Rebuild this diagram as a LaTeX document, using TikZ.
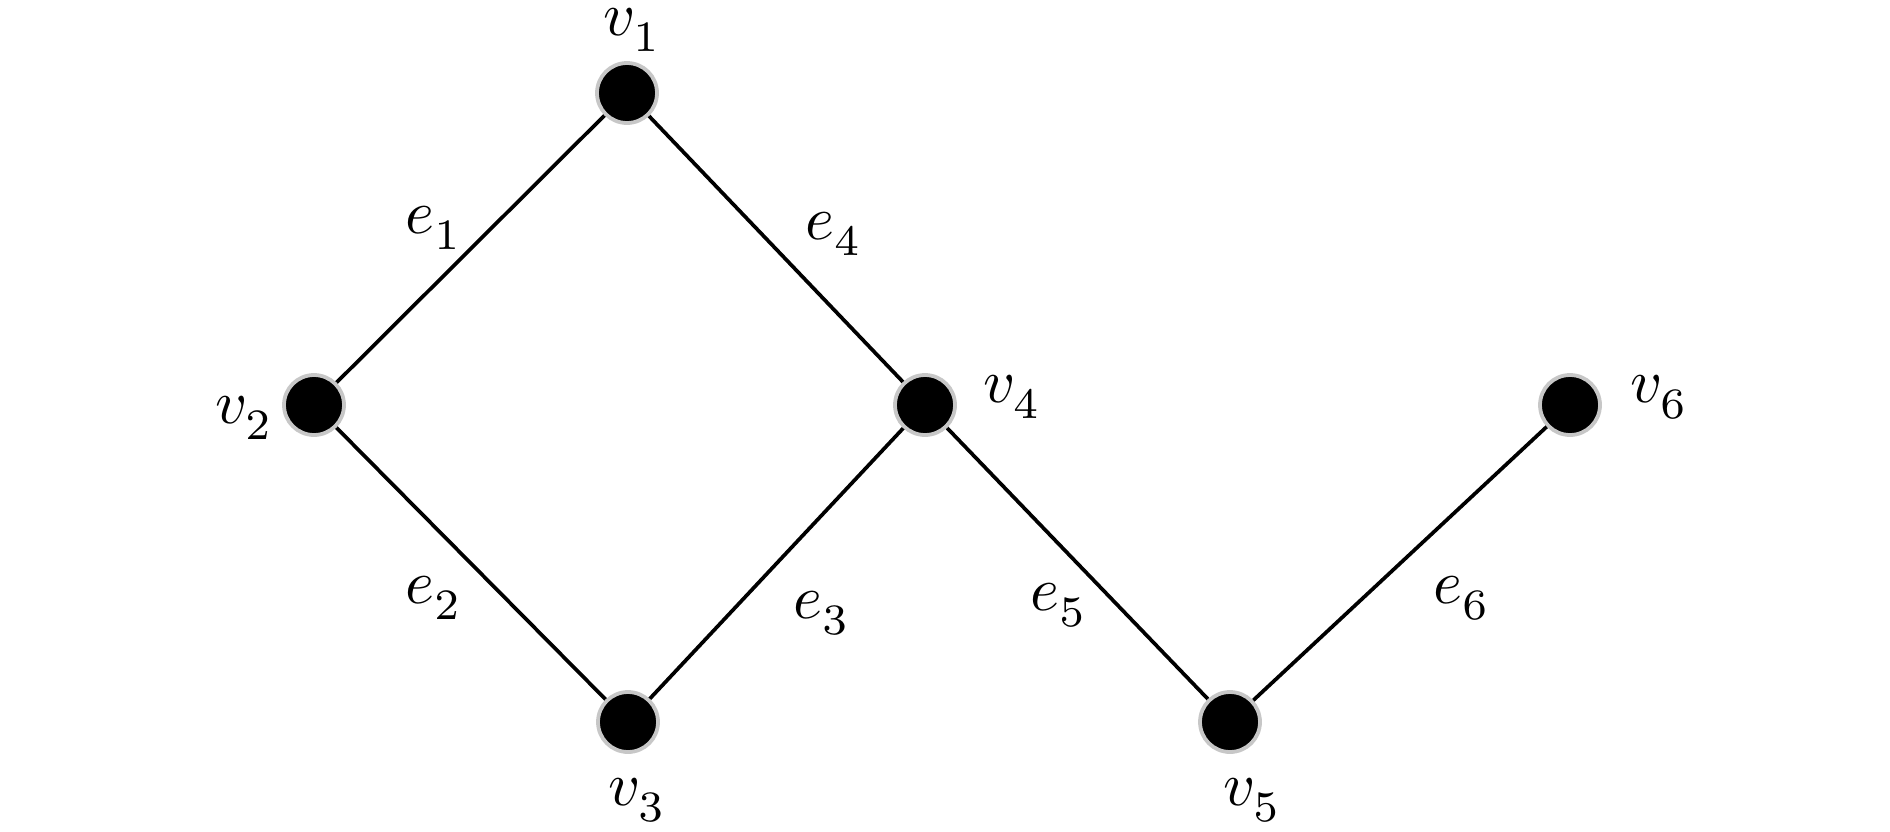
\documentclass[tikz,border=0pt]{standalone}
\usepackage{graphicx}
\newcommand{\biglab}[2]{\scalebox{3.1}{$#1_{\lower1.1pt\hbox{$\scriptstyle #2$}}$}}
\begin{document}
\begin{tikzpicture}[x=0.5pt,y=-0.5pt,
  vertex/.style={circle,fill=black,draw=black!22,line width=1.9pt,minimum size=30pt,inner sep=0pt},
  edge/.style={line width=1.85pt,black},
  lab/.style={inner sep=0pt,anchor=base west,font=\fontsize{10pt}{12pt}\selectfont}]
\useasboundingbox (0,0) rectangle (1890,831);
% vertex centres
\coordinate (c1) at (627,93);
\coordinate (c2) at (314,405);
\coordinate (c3) at (628,722);
\coordinate (c4) at (925,405);
\coordinate (c5) at (1230,722);
\coordinate (c6) at (1570,405);
% edges
\draw[edge] (c1) -- (c2);
\draw[edge] (c2) -- (c3);
\draw[edge] (c3) -- (c4);
\draw[edge] (c1) -- (c4);
\draw[edge] (c4) -- (c5);
\draw[edge] (c5) -- (c6);
% vertices
\node[vertex] (v1) at (c1) {};
\node[vertex] (v2) at (c2) {};
\node[vertex] (v3) at (c3) {};
\node[vertex] (v4) at (c4) {};
\node[vertex] (v5) at (c5) {};
\node[vertex] (v6) at (c6) {};
% vertex labels
\node[lab] (l1) at (603,35) {\biglab{v}{1}};
\node[lab] (l2) at (215,423) {\biglab{v}{2}};
\node[lab] (l3) at (608,805) {\biglab{v}{3}};
\node[lab] (l4) at (983,402) {\biglab{v}{4}};
\node[lab] (l5) at (1223,805) {\biglab{v}{5}};
\node[lab] (l6) at (1630,402) {\biglab{v}{6}};
% edge labels
\node[lab] (le1) at (405,233) {\biglab{e}{1}};
\node[lab] (le2) at (405,603) {\biglab{e}{2}};
\node[lab] (le3) at (793,618) {\biglab{e}{3}};
\node[lab] (le4) at (805,239) {\biglab{e}{4}};
\node[lab] (le5) at (1030,610) {\biglab{e}{5}};
\node[lab] (le6) at (1433,603) {\biglab{e}{6}};
\end{tikzpicture}
\end{document}
